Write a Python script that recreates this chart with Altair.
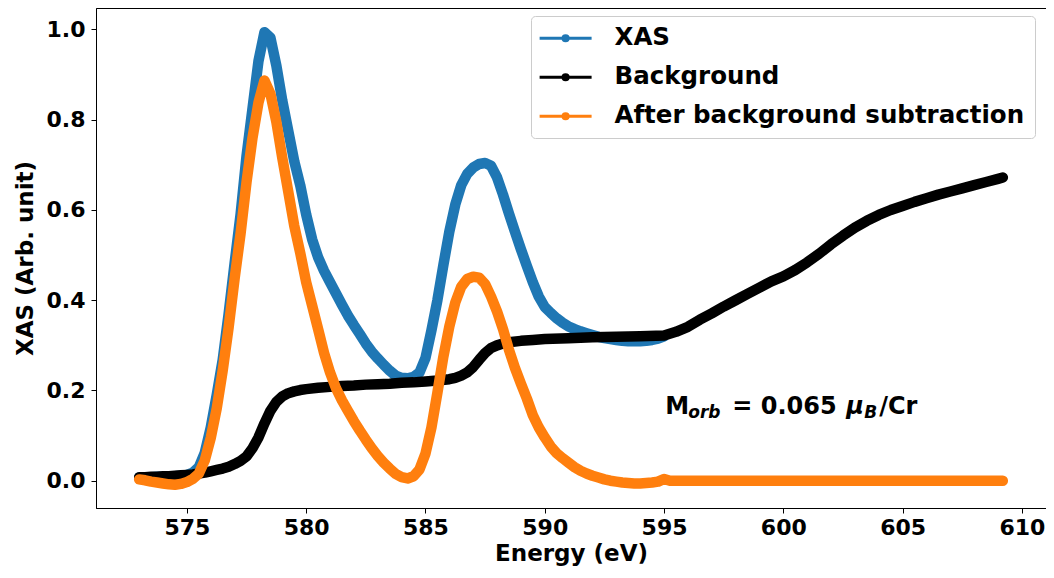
import altair as alt
import pandas as pd

# ---------------- data ----------------
xas_energy = [573.0, 573.25, 573.5, 573.75, 574.0, 574.25, 574.5, 574.75, 575.0, 575.25,
              575.5, 575.75, 576.0, 576.25, 576.5, 576.75, 577.0, 577.25, 577.5, 577.75,
              578.0, 578.25, 578.5, 578.75, 579.0, 579.25, 579.5, 579.75, 580.0, 580.25,
              580.5, 580.75, 581.0, 581.25, 581.5, 581.75, 582.0, 582.25, 582.5, 582.75,
              583.0, 583.25, 583.5, 583.75, 584.0, 584.25, 584.5, 584.75, 585.0, 585.25,
              585.5, 585.75, 586.0, 586.25, 586.5, 586.75, 587.0, 587.25, 587.5, 587.75,
              588.0, 588.25, 588.5, 588.75, 589.0, 589.25, 589.5, 589.75, 590.0, 590.25,
              590.5, 590.75, 591.0, 591.25, 591.5, 591.75, 592.0, 592.25, 592.5, 592.75,
              593.0, 593.25, 593.5, 593.75, 594.0, 594.25, 594.5, 594.75, 595.0]
xas_value = [0.008, 0.008, 0.008, 0.009, 0.009, 0.009, 0.010, 0.011, 0.013, 0.018,
             0.030, 0.062, 0.118, 0.190, 0.268, 0.370, 0.482, 0.590, 0.720, 0.825,
             0.930, 0.994, 0.982, 0.920, 0.842, 0.775, 0.708, 0.655, 0.590, 0.535,
             0.495, 0.465, 0.440, 0.415, 0.390, 0.366, 0.345, 0.325, 0.304, 0.286,
             0.271, 0.257, 0.244, 0.233, 0.228, 0.227, 0.230, 0.240, 0.272, 0.333,
             0.400, 0.478, 0.552, 0.612, 0.655, 0.680, 0.694, 0.702, 0.704, 0.698,
             0.672, 0.634, 0.592, 0.552, 0.513, 0.476, 0.440, 0.408, 0.385, 0.372,
             0.360, 0.350, 0.342, 0.336, 0.331, 0.327, 0.323, 0.319, 0.316, 0.314,
             0.312, 0.310, 0.309, 0.309, 0.309, 0.310, 0.312, 0.315, 0.320]

bg_energy = [573.0, 573.25, 573.5, 573.75, 574.0, 574.25, 574.5, 574.75, 575.0, 575.25,
             575.5, 575.75, 576.0, 576.25, 576.5, 576.75, 577.0, 577.25, 577.5, 577.75,
             578.0, 578.25, 578.5, 578.75, 579.0, 579.25, 579.5, 579.75, 580.0, 580.5,
             581.0, 581.5, 582.0, 582.5, 583.0, 583.5, 584.0, 584.5, 585.0, 585.5,
             586.0, 586.25, 586.5, 586.75, 587.0, 587.25, 587.5, 587.75, 588.0, 588.25,
             588.5, 589.0, 589.5, 590.0, 591.0, 592.0, 593.0, 594.0, 595.0, 595.5,
             596.0, 596.5, 597.0, 597.5, 598.0, 598.5, 599.0, 599.5, 600.0, 600.5,
             601.0, 601.5, 602.0, 602.5, 603.0, 603.5, 604.0, 604.5, 605.0, 605.5,
             606.0, 606.5, 607.0, 607.5, 608.0, 608.5, 609.0, 609.2]
bg_value = [0.008, 0.008, 0.009, 0.009, 0.010, 0.010, 0.011, 0.012, 0.013, 0.014,
            0.016, 0.018, 0.021, 0.024, 0.027, 0.031, 0.037, 0.044, 0.054, 0.072,
            0.096, 0.127, 0.155, 0.175, 0.187, 0.194, 0.198, 0.201, 0.203, 0.206,
            0.208, 0.210, 0.211, 0.213, 0.214, 0.215, 0.217, 0.218, 0.220, 0.222,
            0.225, 0.228, 0.233, 0.240, 0.252, 0.268, 0.283, 0.294, 0.300, 0.304,
            0.307, 0.310, 0.312, 0.314, 0.316, 0.318, 0.319, 0.320, 0.322, 0.330,
            0.341, 0.357, 0.371, 0.386, 0.400, 0.414, 0.428, 0.442, 0.453, 0.467,
            0.484, 0.503, 0.524, 0.543, 0.561, 0.576, 0.589, 0.600, 0.609, 0.618,
            0.626, 0.634, 0.641, 0.648, 0.655, 0.662, 0.669, 0.672]

sub_energy = [573.0, 573.25, 573.5, 573.75, 574.0, 574.25, 574.5, 574.75, 575.0, 575.25,
              575.5, 575.75, 576.0, 576.25, 576.5, 576.75, 577.0, 577.25, 577.5, 577.75,
              578.0, 578.25, 578.5, 578.75, 579.0, 579.25, 579.5, 579.75, 580.0, 580.25,
              580.5, 580.75, 581.0, 581.25, 581.5, 581.75, 582.0, 582.25, 582.5, 582.75,
              583.0, 583.25, 583.5, 583.75, 584.0, 584.25, 584.5, 584.75, 585.0, 585.25,
              585.5, 585.75, 586.0, 586.25, 586.5, 586.75, 587.0, 587.25, 587.5, 587.75,
              588.0, 588.25, 588.5, 588.75, 589.0, 589.25, 589.5, 589.75, 590.0, 590.25,
              590.5, 590.75, 591.0, 591.25, 591.5, 591.75, 592.0, 592.25, 592.5, 592.75,
              593.0, 593.25, 593.5, 593.75, 594.0, 594.25, 594.5, 594.75, 595.0, 595.25,
              597.0, 600.0, 603.0, 606.0, 609.2]
sub_value = [0.003, 0.001, -0.002, -0.004, -0.006, -0.008, -0.009, -0.007, -0.003, 0.004,
             0.016, 0.045, 0.095, 0.160, 0.244, 0.340, 0.448, 0.548, 0.662, 0.760,
             0.838, 0.887, 0.858, 0.795, 0.715, 0.640, 0.565, 0.505, 0.440, 0.388,
             0.336, 0.283, 0.240, 0.205, 0.178, 0.155, 0.132, 0.111, 0.091, 0.072,
             0.055, 0.040, 0.027, 0.015, 0.008, 0.005, 0.010, 0.025, 0.060, 0.118,
             0.195, 0.275, 0.342, 0.395, 0.430, 0.447, 0.452, 0.450, 0.436, 0.408,
             0.375, 0.336, 0.290, 0.250, 0.215, 0.182, 0.145, 0.118, 0.096, 0.076,
             0.061, 0.050, 0.040, 0.030, 0.022, 0.016, 0.011, 0.007, 0.003, 0.000,
             -0.002, -0.004, -0.005, -0.006, -0.006, -0.005, -0.004, -0.002, 0.004, 0.000,
             0.000, 0.000, 0.000, 0.000, 0.000]

series_names = ["XAS", "Background", "After background subtraction"]
series_colors = ["#1f77b4", "#000000", "#ff7f0e"]

x_ticks = [575, 580, 585, 590, 595, 600, 605, 610]
y_ticks = [0.0, 0.2, 0.4, 0.6, 0.8, 1.0]
x_domain = [571.19, 611.01]
y_domain = [-0.0604, 1.0476]

# annotation: M_orb = 0.065 mu_B/Cr, anchored in data coordinates
annot_energy = [595.05]
annot_value = [0.1486]

# ---------------- build tables ----------------
rows = []
for name, es, vs in zip(series_names, [xas_energy, bg_energy, sub_energy],
                        [xas_value, bg_value, sub_value]):
    for e, v in zip(es, vs):
        rows.append({"series": name, "energy": e, "value": v})
df = pd.DataFrame(rows)
annot_df = pd.DataFrame({"energy": annot_energy, "value": annot_value})

FONT = "DejaVu Sans"

x_enc = alt.X("energy:Q", title="Energy (eV)",
              scale=alt.Scale(domain=x_domain, nice=False, zero=False),
              axis=alt.Axis(values=x_ticks, format="d"))
y_enc = alt.Y("value:Q", title="XAS (Arb. unit)",
              scale=alt.Scale(domain=y_domain, nice=False, zero=False),
              axis=alt.Axis(values=y_ticks, format=".1f"))

# legend glyph: a line with a dot in its middle (symbol size 169 -> unit = 6.5 px)
legend_path = ("M-2.1,0H5.9"
               "M1.5,0A0.4,0.4,0,1,0,2.3,0A0.4,0.4,0,1,0,1.5,0"
               "M1.74,0A0.16,0.16,0,1,0,2.06,0A0.16,0.16,0,1,0,1.74,0")

color_enc = alt.Color(
    "series:N",
    scale=alt.Scale(domain=series_names, range=series_colors),
    legend=alt.Legend(
        title=None, orient="none", legendX=435, legendY=8,
        symbolType=legend_path, symbolSize=169, symbolStrokeWidth=3,
        labelFont=FONT, labelFontWeight="bold", labelFontSize=24.5, labelColor="black",
        labelLimit=0, labelOffset=49, rowPadding=14, padding=10,
        strokeColor="#cccccc", cornerRadius=4, fillColor="white",
    ),
)

def line_layer(name):
    return (
        alt.Chart(df)
        .transform_filter(alt.datum.series == name)
        .mark_line(strokeWidth=10.5, strokeCap="round", strokeJoin="round")
        .encode(x=x_enc, y=y_enc, color=color_enc, order="energy:Q")
    )

base_text = alt.Chart(annot_df).encode(x="energy:Q", y="value:Q")

def txt(s, dx, dy=0, size=24, italic=False):
    return base_text.mark_text(
        text=s, dx=dx, dy=dy, align="left", baseline="alphabetic",
        font=FONT, fontSize=size, fontWeight="bold",
        fontStyle="italic" if italic else "normal", color="black",
    )

annotation = (
    txt("M", 0)
    + txt("orb", 23, 4, 17, True)
    + txt("= 0.065", 67)
    + txt("μ", 181, 0, 24, True)
    + txt("B", 199, 4, 17, True)
    + txt("/Cr", 214)
)

chart = (
    alt.layer(line_layer(series_names[0]), line_layer(series_names[1]),
              line_layer(series_names[2]), annotation)
    .properties(width=950, height=500, autosize=alt.AutoSizeParams(type="none"),
                padding={"left": 88, "top": 0, "right": 0, "bottom": 60})
    .configure_view(stroke="black", strokeWidth=1)
    .configure_axis(
        labelFont=FONT, labelFontWeight="bold", labelFontSize=22, labelColor="black",
        titleFont=FONT, titleFontWeight="bold", titleFontSize=23, titleColor="black",
        tickColor="black", tickSize=5, tickWidth=1, domainColor="black",
        grid=False, labelPadding=6,
    )
    .configure_axisX(titlePadding=4, labelPadding=4)
    .configure_axisY(titlePadding=9)
)

chart.save("out.html", embed_options={"renderer": "svg", "actions": False})
